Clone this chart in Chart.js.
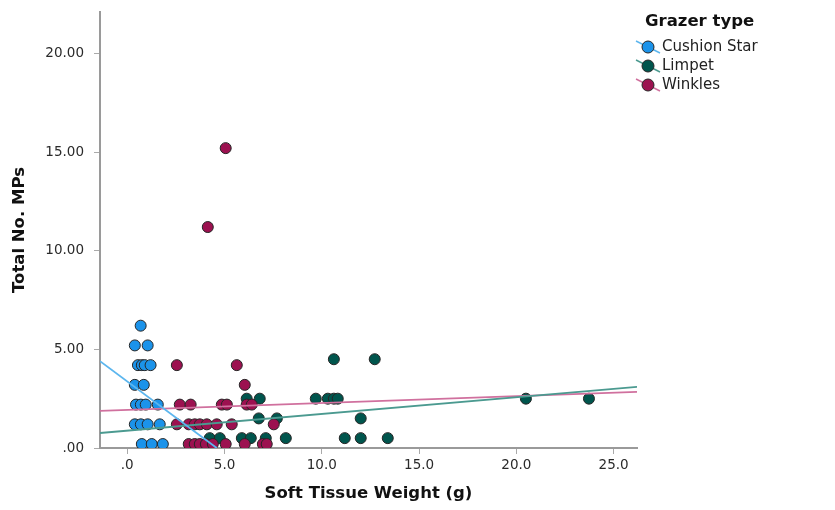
<!DOCTYPE html>
<html>
<head>
<meta charset="utf-8">
<script src="https://cdn.jsdelivr.net/npm/chart.js@4/dist/chart.umd.min.js"></script>
<style>
  html, body { margin: 0; padding: 0; background: #fff; }
  #wrap { width: 835px; height: 510px; }
</style>
</head>
<body>
<div id="wrap"><canvas id="scatterChart" width="835" height="510"></canvas></div>
<script>
// series (x = soft tissue weight, y = total MPs)
const seriesNames = ['Cushion Star', 'Limpet', 'Winkles'];

const cushionX = [0.69, 0.39, 1.05, 0.55, 0.75, 0.9, 1.2, 0.39, 0.85, 0.45, 0.7, 0.95, 1.57, 0.39, 0.7, 1.05, 1.67, 0.75, 1.26, 1.83];
const cushionY = [6.2, 5.2, 5.2, 4.2, 4.2, 4.2, 4.2, 3.2, 3.2, 2.2, 2.2, 2.2, 2.2, 1.2, 1.2, 1.2, 1.2, 0.2, 0.2, 0.2];

const limpetX = [10.62, 12.72, 6.14, 6.81, 9.69, 10.31, 10.62, 10.82, 20.49, 23.73, 6.76, 7.69, 12.0, 4.24, 4.76, 5.89, 6.35, 7.12, 8.15, 11.18, 12.0, 13.39];
const limpetY = [4.5, 4.5, 2.5, 2.5, 2.5, 2.5, 2.5, 2.5, 2.5, 2.5, 1.5, 1.5, 1.5, 0.5, 0.5, 0.5, 0.5, 0.5, 0.5, 0.5, 0.5, 0.5];

const winklesX = [5.06, 4.14, 2.55, 5.63, 6.04, 2.7, 3.26, 4.86, 5.12, 6.14, 6.4, 2.55, 3.16, 3.47, 3.73, 4.09, 4.6, 5.37, 7.53, 3.16, 3.47, 3.73, 4.04, 4.4, 5.06, 6.04, 6.97, 7.17];
const winklesY = [15.2, 11.2, 4.2, 4.2, 3.2, 2.2, 2.2, 2.2, 2.2, 2.2, 2.2, 1.2, 1.2, 1.2, 1.2, 1.2, 1.2, 1.2, 1.2, 0.2, 0.2, 0.2, 0.2, 0.2, 0.2, 0.2, 0.2, 0.2];

// fit lines (end points)
const cushionFitX = [-1.4, 4.6];
const cushionFitY = [4.4, 0.0];
const limpetFitX = [-1.4, 26.2];
const limpetFitY = [0.76, 3.1];
const winklesFitX = [-1.4, 26.2];
const winklesFitY = [1.88, 2.84];

const xTickValues = [0, 5, 10, 15, 20, 25];
const yTickValues = [0, 5, 10, 15, 20];

const pointColors = ['#1b93ea', '#00554d', '#9c1150'];
const lineColors = ['#5cb6ee', '#4b9a90', '#d0709e'];
// lower order is drawn on top: winkles over limpets
const pointOrder = [2, 4, 3];

function pairs(xs, ys) {
    return xs.map(function (x, i) { return { x: x, y: ys[i] }; });
}

const pointSets = [pairs(cushionX, cushionY), pairs(limpetX, limpetY), pairs(winklesX, winklesY)];
const fitSets = [pairs(cushionFitX, cushionFitY), pairs(limpetFitX, limpetFitY), pairs(winklesFitX, winklesFitY)];

const datasets = [];
seriesNames.forEach(function (name, i) {
    datasets.push({
        label: name,
        data: pointSets[i],
        backgroundColor: pointColors[i],
        borderColor: '#262626',
        borderWidth: 1,
        pointRadius: 5.5,
        pointHoverRadius: 5.5,
        order: pointOrder[i]
    });
});
seriesNames.forEach(function (name, i) {
    datasets.push({
        label: name + ' fit',
        data: fitSets[i],
        showLine: true,
        borderColor: lineColors[i],
        borderWidth: 1.8,
        pointRadius: 0,
        fill: false,
        order: 1
    });
});

// legend drawn on the right, like the SPSS one
const grazerLegend = {
    id: 'grazerLegend',
    afterDraw: function (chart) {
        const ctx = chart.ctx;
        ctx.save();
        ctx.fillStyle = '#111';
        ctx.font = 'bold 16.5px "DejaVu Sans"';
        ctx.textBaseline = 'middle';
        ctx.textAlign = 'left';
        ctx.fillText('Grazer type', 645, 22);
        const rows = [47, 66, 85];
        seriesNames.forEach(function (name, i) {
            const cy = rows[i];
            ctx.strokeStyle = lineColors[i];
            ctx.lineWidth = 1.5;
            ctx.beginPath();
            ctx.moveTo(636, cy - 6);
            ctx.lineTo(660, cy + 6);
            ctx.stroke();
            ctx.beginPath();
            ctx.arc(648, cy, 6, 0, Math.PI * 2);
            ctx.fillStyle = pointColors[i];
            ctx.fill();
            ctx.strokeStyle = '#262626';
            ctx.lineWidth = 1;
            ctx.stroke();
            ctx.fillStyle = '#222';
            ctx.font = '15px "DejaVu Sans"';
            ctx.fillText(name, 662, cy);
        });
        ctx.restore();
    }
};

document.addEventListener('DOMContentLoaded', function () {
    try {
        const ctx = document.getElementById('scatterChart').getContext('2d');
        new Chart(ctx, {
            type: 'scatter',
            data: { datasets: datasets },
            options: {
                responsive: false,
                animation: false,
                layout: { padding: { left: 0, top: 12, right: 198, bottom: 0 } },
                plugins: { legend: { display: false }, tooltip: { enabled: false } },
                scales: {
                    x: {
                        type: 'linear',
                        min: -1.4,
                        max: 26.2,
                        afterBuildTicks: function (scale) {
                            scale.ticks = xTickValues.map(function (v) { return { value: v }; });
                        },
                        afterFit: function (scale) {
                            scale.height = 62;
                            scale.paddingLeft = 0;
                            scale.paddingRight = 0;
                        },
                        ticks: {
                            color: '#2a2a2a',
                            font: { family: 'DejaVu Sans', size: 13.5 },
                            padding: 3,
                            maxRotation: 0,
                            callback: function (v) { return v === 0 ? '.0' : v.toFixed(1); }
                        },
                        grid: { drawOnChartArea: false, color: '#aaa', tickLength: 6 },
                        border: { color: '#9a9a9a', width: 2 },
                        title: {
                            display: true,
                            text: 'Soft Tissue Weight (g)',
                            color: '#111',
                            font: { family: 'DejaVu Sans', size: 16.5, weight: 'bold' },
                            padding: { top: 0, bottom: 6 }
                        }
                    },
                    y: {
                        type: 'linear',
                        min: 0,
                        max: 22.1,
                        afterBuildTicks: function (scale) {
                            scale.ticks = yTickValues.map(function (v) { return { value: v }; });
                        },
                        afterFit: function (scale) {
                            scale.width = 100;
                            scale.paddingTop = 0;
                            scale.paddingBottom = 0;
                        },
                        ticks: {
                            color: '#2a2a2a',
                            font: { family: 'DejaVu Sans', size: 13.5 },
                            padding: 10,
                            callback: function (v) { return v === 0 ? '.00' : v.toFixed(2); }
                        },
                        grid: { drawOnChartArea: false, color: '#aaa', tickLength: 6 },
                        border: { color: '#9a9a9a', width: 2 },
                        title: {
                            display: true,
                            text: 'Total No. MPs',
                            color: '#111',
                            font: { family: 'DejaVu Sans', size: 16.5, weight: 'bold' },
                            padding: { top: 10, bottom: 0 }
                        }
                    }
                }
            },
            plugins: [grazerLegend]
        });
    } catch (error) {
        console.error('Erro ao montar gráfico:', error);
    }
});
</script>
</body>
</html>
